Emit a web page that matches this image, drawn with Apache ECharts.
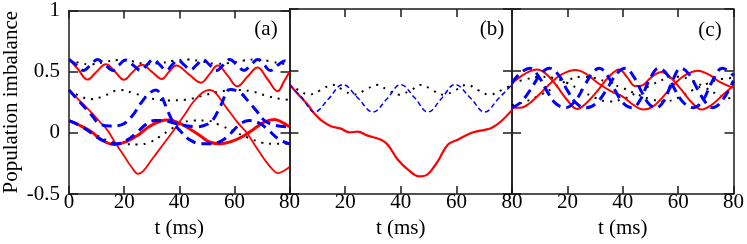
<!DOCTYPE html>
<html><head><meta charset="utf-8">
<script src="https://cdn.jsdelivr.net/npm/echarts@6/dist/echarts.min.js"></script>
<style>html,body{margin:0;padding:0;background:#fff}#c{width:747px;height:244px}</style>
</head><body><div id="c"></div>
<script>
// ---- tick labels / texts ----
const xTicks = [0, 20, 40, 60, 80];
const yTicks = [-0.5, 0, 0.5, 1];
const panelLabels = ['(a)', '(b)', '(c)'];
const xName = 't (ms)';
const yName = 'Population imbalance';

// ---- panel (a) ----
const aRedTop = [[0,0.60],[3.3,0.52],[6.7,0.435],[10,0.50],[13.4,0.56],[16.7,0.50],[19.9,0.433],[23.2,0.50],[26.5,0.557],[30,0.50],[33.7,0.44],[36.3,0.50],[38.9,0.55],[43.4,0.48],[47.9,0.41],[51,0.48],[53.9,0.55],[57.5,0.47],[61.1,0.38],[64.8,0.46],[68.4,0.535],[72,0.44],[75.7,0.34],[78,0.42],[80,0.50]];
const aBlueTop = [[0,0.60],[2.6,0.555],[5.3,0.51],[7.8,0.555],[10.3,0.60],[13.1,0.555],[16,0.51],[18.2,0.555],[20.5,0.595],[23.2,0.555],[26,0.51],[28.3,0.555],[30.5,0.60],[33,0.555],[35.3,0.51],[37.4,0.555],[39.5,0.595],[41.8,0.555],[44,0.515],[46.3,0.555],[48.5,0.60],[51,0.555],[53.5,0.51],[56,0.555],[58.3,0.60],[61,0.555],[63.5,0.51],[66,0.555],[68.5,0.60],[70.8,0.555],[73,0.51],[75.8,0.555],[78.5,0.59],[80,0.58]];
const aDotTop = [[0,0.60],[4,0.57],[8,0.56],[13,0.58],[18,0.595],[23,0.585],[28,0.565],[33,0.57],[38,0.59],[43,0.60],[48,0.585],[53,0.565],[58,0.57],[63,0.59],[68,0.60],[73,0.585],[78,0.565],[80,0.565]];
const aRedMid = [[0,0.35],[4,0.26],[8,0.17],[12,0.07],[14,0.02],[17,-0.09],[20,-0.19],[23,-0.29],[25,-0.335],[27,-0.31],[30,-0.22],[34,-0.1],[38.6,0.04],[42,0.15],[45,0.25],[48.5,0.33],[51,0.35],[53,0.33],[57.3,0.2],[61,0.09],[64.5,0.0],[68,-0.12],[71,-0.22],[73.5,-0.29],[75.8,-0.33],[78,-0.31],[80,-0.28]];
const aBlueMid = [[0,0.35],[4,0.25],[8,0.15],[11,0.075],[15,0.055],[19,0.065],[23,0.14],[26,0.24],[29,0.32],[31.5,0.35],[33.5,0.30],[36,0.17],[38,0.08],[41,0.0],[44,-0.06],[48,-0.09],[51,-0.09],[55,-0.07],[58,-0.02],[62,0.07],[65.5,0.10],[69,0.08],[72,0.03],[76,-0.05],[80,-0.09]];
const aDotMid = [[0,0.35],[4,0.30],[8,0.275],[12,0.295],[18.5,0.35],[24,0.32],[30,0.28],[36,0.265],[42,0.27],[48,0.30],[54,0.335],[60,0.35],[66,0.34],[72,0.30],[76,0.28],[80,0.27]];
const aRedLow = [[0,0.10],[4,0.06],[8,0.01],[12,-0.06],[16.5,-0.095],[21,-0.07],[25,-0.02],[29,0.05],[33,0.095],[36,0.105],[40,0.08],[44,0.03],[48,-0.03],[51,-0.075],[55,-0.09],[59,-0.07],[63,-0.03],[67,0.03],[71,0.09],[74.5,0.11],[77,0.09],[80,0.05]];
const aBlueLow = [[0,0.10],[4,0.06],[8,0.0],[12,-0.06],[17,-0.09],[21,-0.06],[25,0.01],[28,0.07],[31,0.10],[34,0.10],[38,0.08],[42,0.06],[46,0.05],[49,0.06],[52,0.10],[55,0.22],[58.5,0.355],[62,0.33],[65,0.26],[68,0.18],[71,0.10],[75,0.06],[80,0.05]];
const aDotLow = [[0,0.10],[5,0.05],[10,-0.02],[15,-0.07],[20,-0.09],[25,-0.095],[29,-0.08],[33,-0.03],[37,0.03],[41,0.08],[45,0.10],[50,0.10],[55,0.06],[60,0.01],[65,-0.04],[70,-0.08],[75,-0.09],[80,-0.09]];

// ---- panel (b) ----
const bRed = [[0,0.39],[3,0.31],[6.5,0.225],[9,0.15],[11.3,0.10],[14.9,0.05],[18.5,0.03],[21.5,0.0],[24.5,0.005],[28.1,-0.027],[32.9,-0.06],[35.3,-0.10],[38.9,-0.22],[42.5,-0.30],[46.7,-0.357],[49.7,-0.34],[53.3,-0.235],[56.9,-0.10],[60.5,-0.06],[65.3,-0.005],[70.2,0.02],[72.6,0.035],[76.1,0.09],[80,0.18]];
const bBlue = [[0,0.387],[4.5,0.28],[9,0.165],[14,0.27],[19.2,0.387],[24.5,0.28],[30,0.165],[35,0.27],[40,0.387],[45,0.28],[49.8,0.165],[54.5,0.27],[59.5,0.387],[65,0.28],[70.2,0.165],[75,0.27],[80,0.387]];
const bDot = [[0,0.385],[3.5,0.34],[7,0.305],[11,0.34],[15.5,0.385],[19.5,0.34],[23,0.305],[27,0.34],[31.5,0.385],[35.5,0.34],[39.5,0.305],[43.5,0.34],[47.5,0.385],[51.5,0.34],[55.5,0.305],[59.5,0.34],[63.8,0.385],[68,0.34],[72,0.305],[76,0.34],[80,0.385]];

// ---- panel (c) ----
const cRed1 = [[0,0.40],[3,0.45],[6,0.49],[9,0.51],[12.5,0.47],[16,0.38],[20,0.26],[23.5,0.19],[27,0.24],[31,0.34],[35,0.45],[38.7,0.51],[41.5,0.45],[44.5,0.375],[47,0.38],[50,0.44],[54,0.49],[57,0.45],[61,0.35],[65,0.24],[68.5,0.185],[72,0.22],[76,0.30],[80,0.38]];
const cRed2 = [[0,0.20],[3,0.20],[6,0.23],[10,0.31],[14,0.40],[18,0.47],[23,0.505],[27,0.47],[31,0.40],[36,0.33],[40,0.29],[44,0.22],[47.5,0.185],[51,0.21],[55,0.30],[59,0.40],[63,0.47],[67,0.50],[71,0.47],[75,0.41],[80,0.36]];
const cBlue1 = [[0,0.40],[3,0.48],[6.5,0.52],[10,0.44],[13,0.32],[16,0.23],[19.5,0.20],[23,0.26],[26,0.37],[29,0.48],[31.5,0.52],[34.5,0.46],[37.5,0.33],[40.5,0.23],[43.5,0.20],[46.5,0.27],[49.5,0.42],[53,0.52],[56,0.47],[59,0.34],[62,0.24],[65.5,0.20],[69,0.26],[72,0.40],[76,0.52],[78,0.50],[80,0.46]];
const cBlue2 = [[0,0.20],[3,0.24],[6.5,0.34],[10,0.46],[13.5,0.52],[17,0.46],[20,0.34],[23.5,0.23],[27,0.20],[31,0.25],[34.5,0.36],[38,0.48],[41,0.52],[44,0.45],[47,0.32],[49.5,0.23],[52,0.20],[55,0.26],[58,0.42],[61,0.52],[64,0.47],[67,0.35],[70,0.24],[72.5,0.20],[76,0.26],[80,0.42]];
const cDot1 = [[0,0.40],[5,0.43],[10,0.45],[15,0.44],[20,0.40],[25,0.34],[30,0.28],[35,0.25],[40,0.27],[45,0.32],[50,0.38],[55,0.43],[60,0.45],[65,0.42],[70,0.36],[75,0.30],[80,0.27]];
const cDot2 = [[0,0.22],[5,0.25],[10,0.30],[15,0.36],[20,0.42],[25,0.45],[30,0.44],[35,0.40],[40,0.36],[45,0.31],[50,0.27],[55,0.25],[60,0.28],[65,0.34],[70,0.39],[75,0.43],[80,0.44]];

const FONT = 'Liberation Serif';
const FS = 21;
const AX = '#1a1a1a';
const grids = [
  {left: 67, top: 9, width: 222.5, height: 185},
  {left: 289.5, top: 9, width: 222.5, height: 185},
  {left: 512, top: 9, width: 223, height: 185}
];

const xAxes = [], yAxes = [];
for (let i = 0; i < 3; i++) {
  xAxes.push({
    type: 'value', gridIndex: i, min: xTicks[0], max: xTicks[xTicks.length-1], interval: xTicks[1]-xTicks[0],
    position: 'bottom',
    name: xName, nameLocation: 'middle', nameGap: 23,
    nameTextStyle: {fontFamily: FONT, fontSize: FS, color: '#000'},
    axisLine: {show: true, onZero: false, lineStyle: {color: AX, width: 1.5}},
    axisTick: {show: true, inside: true, length: 8, lineStyle: {color: AX, width: 1.5}},
    axisLabel: {show: true, margin: -2, fontFamily: FONT, fontSize: FS, color: '#000',
      formatter: v => (i > 0 && v === 0) ? '' : String(v)},
    splitLine: {show: false}
  });
}
for (let i = 0; i < 3; i++) {
  xAxes.push({
    type: 'value', gridIndex: i, min: xTicks[0], max: xTicks[xTicks.length-1], interval: xTicks[1]-xTicks[0],
    position: 'top',
    axisLine: {show: true, onZero: false, lineStyle: {color: AX, width: 1.5}},
    axisTick: {show: true, inside: true, length: 8, lineStyle: {color: AX, width: 1.5}},
    axisLabel: {show: false}, splitLine: {show: false}
  });
}
for (let i = 0; i < 3; i++) {
  yAxes.push({
    type: 'value', gridIndex: i, min: yTicks[0], max: yTicks[yTicks.length-1], interval: yTicks[1]-yTicks[0],
    position: 'left',
    name: i === 0 ? yName : '', nameLocation: 'middle', nameGap: 47,
    nameTextStyle: {fontFamily: FONT, fontSize: FS, color: '#000'},
    axisLine: {show: true, onZero: false, lineStyle: {color: AX, width: 1.5}},
    axisTick: {show: true, inside: true, length: 9, lineStyle: {color: AX, width: 1.5}},
    axisLabel: {show: i === 0, margin: 9, fontFamily: FONT, fontSize: FS, color: '#000',
      formatter: v => String(v)},
    splitLine: {show: false}
  });
}
for (let i = 0; i < 3; i++) {
  yAxes.push({
    type: 'value', gridIndex: i, min: yTicks[0], max: yTicks[yTicks.length-1], interval: yTicks[1]-yTicks[0],
    position: 'right',
    axisLine: {show: true, onZero: false, lineStyle: {color: AX, width: 1.5}},
    axisTick: {show: true, inside: true, length: 9, lineStyle: {color: AX, width: 1.5}},
    axisLabel: {show: false}, splitLine: {show: false}
  });
}

function red(data, p, w) {
  return {type: 'line', data, xAxisIndex: p, yAxisIndex: p, showSymbol: false, smooth: 0.4,
    lineStyle: {color: '#ff0000', width: w}, z: 3};
}
function blue(data, p, w, dash) {
  return {type: 'line', data, xAxisIndex: p, yAxisIndex: p, showSymbol: false, smooth: 0.4,
    lineStyle: {color: '#0000ff', width: w, type: dash}, z: 4};
}
function dots(data, p) {
  return {type: 'line', data, xAxisIndex: p, yAxisIndex: p, showSymbol: false, smooth: 0.4,
    lineStyle: {color: '#000000', width: 2, type: [2, 6]}, z: 2};
}

const series = [
  dots(aDotTop, 0), dots(aDotMid, 0), dots(aDotLow, 0),
  red(aRedTop, 0, 2), red(aRedMid, 0, 1.8), red(aRedLow, 0, 3),
  blue(aBlueTop, 0, 3, [10, 6]), blue(aBlueMid, 0, 3, [10, 6]), blue(aBlueLow, 0, 3, [10, 6]),
  dots(bDot, 1), red(bRed, 1, 2.2), blue(bBlue, 1, 1.5, [5, 3]),
  dots(cDot1, 2), dots(cDot2, 2),
  red(cRed1, 2, 2), red(cRed2, 2, 2),
  blue(cBlue1, 2, 3, [10, 6]), blue(cBlue2, 2, 3, [10, 6])
];

const labelPos = [[266, 29], [492, 29], [710, 30]];
const graphic = panelLabels.map((t, i) => ({
  type: 'text', x: labelPos[i][0], y: labelPos[i][1],
  style: {text: t, fontFamily: FONT, fontSize: FS, fill: '#000', align: 'center', verticalAlign: 'middle'}
}));

const chart = echarts.init(document.getElementById('c'));
chart.setOption({
  animation: false,
  backgroundColor: '#fff',
  grid: grids,
  xAxis: xAxes,
  yAxis: yAxes,
  series,
  graphic
});
</script></body></html>
